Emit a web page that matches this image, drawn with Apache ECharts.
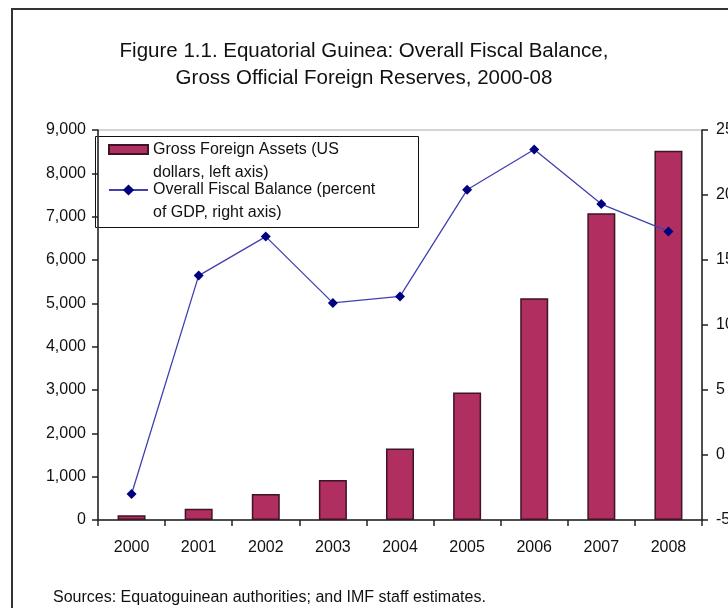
<!DOCTYPE html>
<html>
<head>
<meta charset="utf-8">
<script src="https://cdn.jsdelivr.net/npm/echarts@6/dist/echarts.min.js"></script>
<style>
html,body{margin:0;padding:0;background:#fff;}
#chart{width:728px;height:608px;}
</style>
</head>
<body>
<div id="chart"></div>
<script>
var categories = ['2000','2001','2002','2003','2004','2005','2006','2007','2008'];
var grossForeignAssets = [110, 260, 600, 925, 1650, 2940, 5120, 7080, 8520];
var fiscalBalance = [-3.0, 13.8, 16.8, 11.7, 12.2, 20.4, 23.5, 19.3, 17.2];
var titleLines = ['Figure 1.1. Equatorial Guinea: Overall Fiscal Balance,', 'Gross Official Foreign Reserves, 2000-08'];
var legendBar = ['Gross Foreign Assets (US', 'dollars, left axis)'];
var legendLine = ['Overall Fiscal Balance (percent', 'of GDP, right axis)'];
var sourceNote = 'Sources: Equatoguinean authorities; and IMF staff estimates.';

var FONT = '"Liberation Sans", Arial, sans-serif';
var chart = echarts.init(document.getElementById('chart'), null, {renderer: 'canvas'});
var L = 23;
var option = {
  backgroundColor: '#fff',
  animation: false,
  title: {
    text: titleLines.join('\n'),
    left: 'center',
    top: 38,
    padding: 0,
    textStyle: {fontFamily: FONT, fontSize: 20.5, fontWeight: 'normal', color: '#111', lineHeight: 27}
  },
  grid: {left: 98, right: 26, top: 130, bottom: 88, show: true, borderColor: '#aaa', borderWidth: 1,
         backgroundColor: 'transparent', containLabel: false, outerBoundsMode: 'none'},
  legend: [
    {
      data: ['Gross Foreign Assets'],
      left: 108, top: 115, padding: 0,
      itemWidth: 39, itemHeight: 9, icon: 'rect',
      formatter: function(){ return '\n' + legendBar.join('\n'); },
      textStyle: {fontFamily: FONT, fontSize: 16, color: '#111', lineHeight: L}
    },
    {
      data: ['Overall Fiscal Balance'],
      left: 108, top: 155.5, padding: 0,
      itemWidth: 39, itemHeight: 14,
      formatter: function(){ return '\n' + legendLine.join('\n'); },
      textStyle: {fontFamily: FONT, fontSize: 16, color: '#111', lineHeight: L}
    }
  ],
  xAxis: {
    type: 'category',
    data: categories,
    axisLine: {lineStyle: {color: '#222', width: 1.5}},
    axisTick: {show: true, length: 6, lineStyle: {color: '#222', width: 1.5}},
    axisLabel: {fontFamily: FONT, fontSize: 16, color: '#111', margin: 20}
  },
  yAxis: [
    {
      type: 'value', min: 0, max: 9000, interval: 1000, position: 'left',
      splitLine: {show: false},
      axisLine: {show: true, lineStyle: {color: '#222', width: 1.5}},
      axisTick: {show: true, length: 6, lineStyle: {color: '#222', width: 1.5}},
      axisLabel: {fontFamily: FONT, fontSize: 16, color: '#111', margin: 12,
        formatter: function(v){ return v.toLocaleString('en-US'); }}
    },
    {
      type: 'value', min: -5, max: 25, interval: 5, position: 'right',
      splitLine: {show: false},
      axisLine: {show: true, lineStyle: {color: '#222', width: 1.5}},
      axisTick: {show: true, length: 6, lineStyle: {color: '#222', width: 1.5}},
      axisLabel: {fontFamily: FONT, fontSize: 16, color: '#111', margin: 14}
    }
  ],
  series: [
    {
      name: 'Gross Foreign Assets',
      type: 'bar', yAxisIndex: 0,
      data: grossForeignAssets,
      barWidth: 28,
      itemStyle: {color: '#B02E60', borderColor: '#3d1526', borderWidth: 1.5}
    },
    {
      name: 'Overall Fiscal Balance',
      type: 'line', yAxisIndex: 1,
      data: fiscalBalance,
      symbol: 'diamond', symbolSize: 10,
      lineStyle: {color: '#4040b0', width: 1.3},
      itemStyle: {color: '#000080'}
    }
  ],
  graphic: [
    {type: 'rect', shape: {x: 12, y: 9, width: 740, height: 620}, style: {fill: 'none', stroke: '#333', lineWidth: 2}, silent: true},
    {type: 'rect', shape: {x: 95.5, y: 136.5, width: 323, height: 91}, style: {fill: 'none', stroke: '#111', lineWidth: 1}, silent: true, z: -1},
    {type: 'text', left: 53, top: 590, style: {text: sourceNote, font: '16px ' + FONT, fill: '#111'}}
  ]
};
chart.setOption(option);
</script>
</body>
</html>
